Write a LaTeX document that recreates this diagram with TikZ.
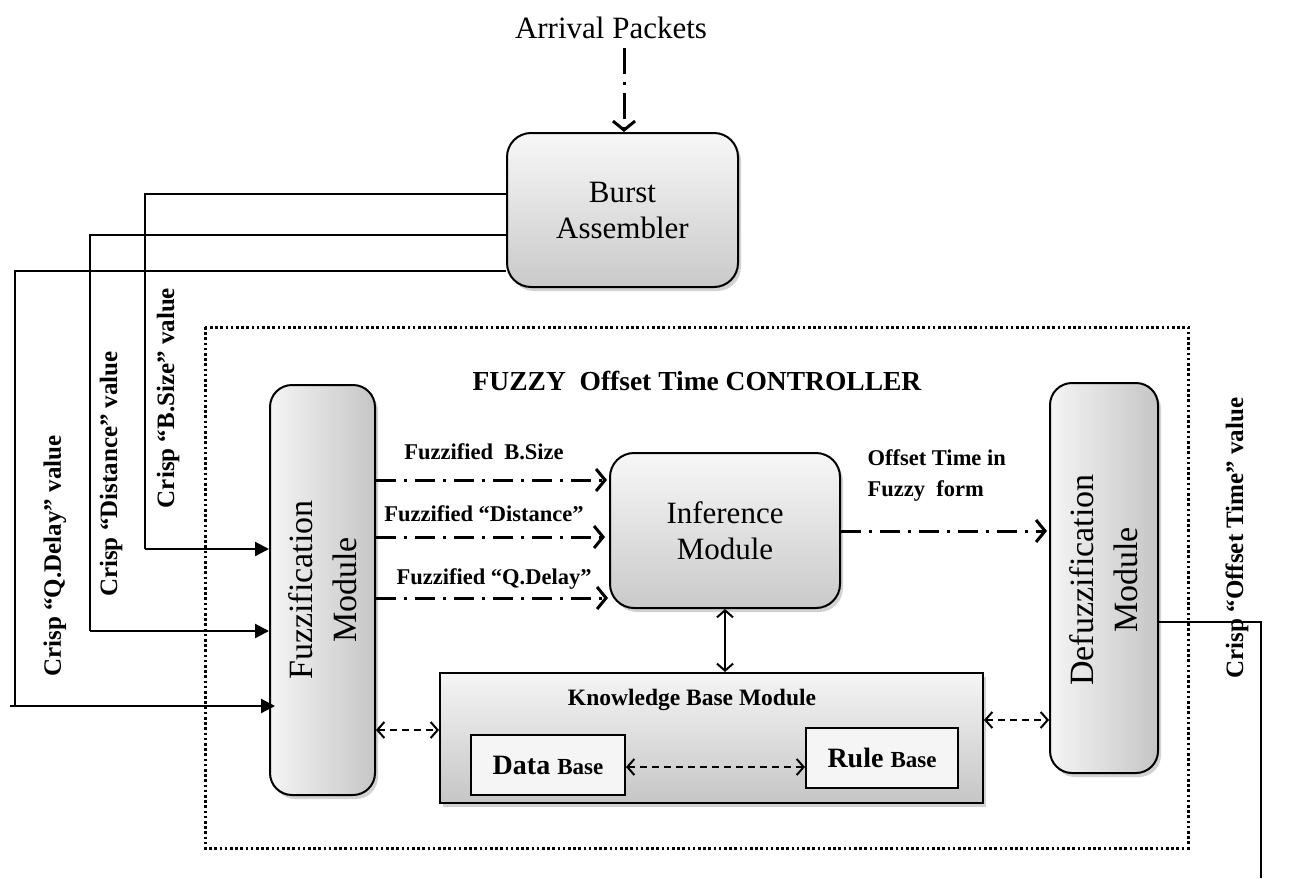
\documentclass[tikz,border=0pt]{standalone}
\usepackage{fontspec}
\setmainfont{Liberation Serif}
\usetikzlibrary{arrows.meta,shadows,calc}
\newcommand\fsz[2]{\fontsize{#1}{#2}\selectfont}
\begin{document}
\begin{tikzpicture}[x=1pt,y=-1pt,
  basebox/.style={draw=black, line width=2pt,
    drop shadow={opacity=0.35, shadow xshift=3pt, shadow yshift=-4pt}, inner sep=0pt},
  modbox/.style={basebox, rounded corners=24pt, top color=gray!6, bottom color=gray!42},
  vmodbox/.style={basebox, left color=gray!8, right color=gray!45, rounded corners=22pt},
  kbbox/.style={basebox, top color=gray!8, bottom color=gray!45},
  wbox/.style={draw=black, line width=2pt, fill=gray!8, inner sep=0pt},
  big/.style={font=\fsz{31}{36}},
  vbig/.style={font=\fsz{34}{44}, rotate=90, align=center},
  blab/.style={font=\fsz{22.5}{31}\bfseries, align=left},
  crisp/.style={font=\fsz{25}{28}\bfseries, rotate=90},
  fzarrow/.style={line width=3pt, dash pattern=on 20pt off 8pt on 3pt off 8pt,
    -{Straight Barb[length=9pt,width=22pt,line width=3pt]}},
  dsharrow/.style={line width=2pt, dash pattern=on 7pt off 5pt,
    {Straight Barb[length=7pt,width=16pt,line width=2pt]}-{Straight Barb[length=7pt,width=16pt,line width=2pt]}},
  solarrow/.style={line width=2pt,
    {Straight Barb[length=7pt,width=16pt,line width=2pt]}-{Straight Barb[length=7pt,width=16pt,line width=2pt]}},
  crline/.style={line width=2.2pt},
  crarrow/.style={line width=2.2pt, -{Triangle[length=14pt,width=14pt]}}
]
\useasboundingbox (0,0) rectangle (1289,878);
\fill[white] (0,0) rectangle (1289,878);

% frame
\draw[line width=3pt, dash pattern=on 2.6pt off 2.6pt] (205,327) rectangle (1188,848);
\node[font=\fsz{27.5}{32}\bfseries] (title) at (697,381) {FUZZY\ \ Offset Time CONTROLLER};

% nodes
\node (arr) [font=\fsz{31}{36}] at (611,28) {Arrival Packets};
\node[modbox, minimum width=231pt, minimum height=154pt] (burst) at (622.5,210) {};
\node[big, align=center] (burstl) at (622.5,210) {Burst\\Assembler};

\node[vmodbox, minimum width=105pt, minimum height=410pt] (fuzz) at (322.5,590) {};
\node[vbig] (fuzzl) at (322.5,590) {Fuzzification\\Module};

\node[modbox, minimum width=230pt, minimum height=155pt] (inf) at (725,530.5) {};
\node[big, align=center] (infl) at (725,531) {Inference\\Module};

\node[vmodbox, minimum width=108pt, minimum height=390pt] (defuzz) at (1104,578) {};
\node[vbig] (defuzzl) at (1104,580) {Defuzzification\\Module};

\node[kbbox, minimum width=543pt, minimum height=130pt] (kb) at (711.5,738) {};
\node[font=\fsz{23.5}{28}\bfseries] (kbl) at (692,700) {Knowledge Base Module};
\node[wbox, minimum width=154pt, minimum height=60pt] (db) at (548,765)
  {\bfseries\fsz{28}{30}Data \fsz{23}{30}Base};
\node[wbox, minimum width=152pt, minimum height=60pt] (rb) at (882,758)
  {\bfseries\fsz{28}{30}Rule \fsz{23}{30}Base};

% arrival arrow
\draw[line width=3pt, dash pattern=on 26pt off 8pt on 3pt off 8pt,
  -{Straight Barb[length=9pt,width=22pt,line width=3pt]}] (624,48) -- (624,132);

% crisp inputs
\coordinate (y1) at (0,194);
\coordinate (y2) at (0,235);
\coordinate (y3) at (0,271);
\coordinate (a1) at (145,549);
\coordinate (a2) at (90,631);
\coordinate (a3) at (15,706);
\coordinate (a3l) at (10,706);
\draw[crline] (burst.west |- y1) -- (a1 |- y1) -- (a1);
\draw[crarrow] (a1) -- (fuzz.west |- a1);
\draw[crline] (burst.west |- y2) -- (a2 |- y2) -- (a2);
\draw[crarrow] (a2) -- (fuzz.west |- a2);
\draw[crline] (burst.west |- y3) -- (a3 |- y3) -- (a3);
\draw[crarrow] (a3l) -- ([xshift=6pt]fuzz.west |- a3);

\node[crisp] (l1) at (168,398) {Crisp “B.Size” value};
\node[crisp] (l2) at (111,474) {Crisp “Distance” value};
\node[crisp] (l3) at (55,556) {Crisp “Q.Delay” value};

% fuzzified arrows
\coordinate (f1) at (0,480);
\coordinate (f2) at (0,537);
\coordinate (f3) at (0,598);
\draw[fzarrow] (fuzz.east |- f1) -- ([xshift=-2pt]inf.west |- f1);
\draw[fzarrow] (fuzz.east |- f2) -- ([xshift=-4pt]inf.west |- f2);
\draw[fzarrow] (fuzz.east |- f3) -- ([xshift=-1pt]inf.west |- f3);
\node[blab] (t1) at (484,452) {Fuzzified\ \ B.Size};
\node[blab] (t2) at (484,514) {Fuzzified “Distance”};
\node[blab] (t3) at (494,579) {Fuzzified “Q.Delay”};

% offset arrow
\coordinate (f4) at (0,531);
\draw[fzarrow] (inf.east |- f4) -- ([xshift=-2pt]defuzz.west |- f4);
\node[blab, anchor=north west] (t4) at (864,446) {Offset Time in\\Fuzzy\ \ form};

% knowledge links
\draw[solarrow] (inf.south) -- (inf.south |- kb.north);
\coordinate (k1) at (0,730);
\coordinate (k2) at (0,720);
\coordinate (k3) at (0,767);
\draw[dsharrow] (fuzz.east |- k1) -- (kb.west |- k1);
\draw[dsharrow] (kb.east |- k2) -- (defuzz.west |- k2);
\draw[dsharrow] (db.east |- k3) -- (rb.west |- k3);

% output
\coordinate (o1) at (1261,622);
\coordinate (o2) at (1261,878);
\draw[crline] (defuzz.east |- o1) -- (o1) -- (o2);
\node[crisp] (l4) at (1237,538) {Crisp “Offset Time” value};
\end{tikzpicture}
\end{document}
